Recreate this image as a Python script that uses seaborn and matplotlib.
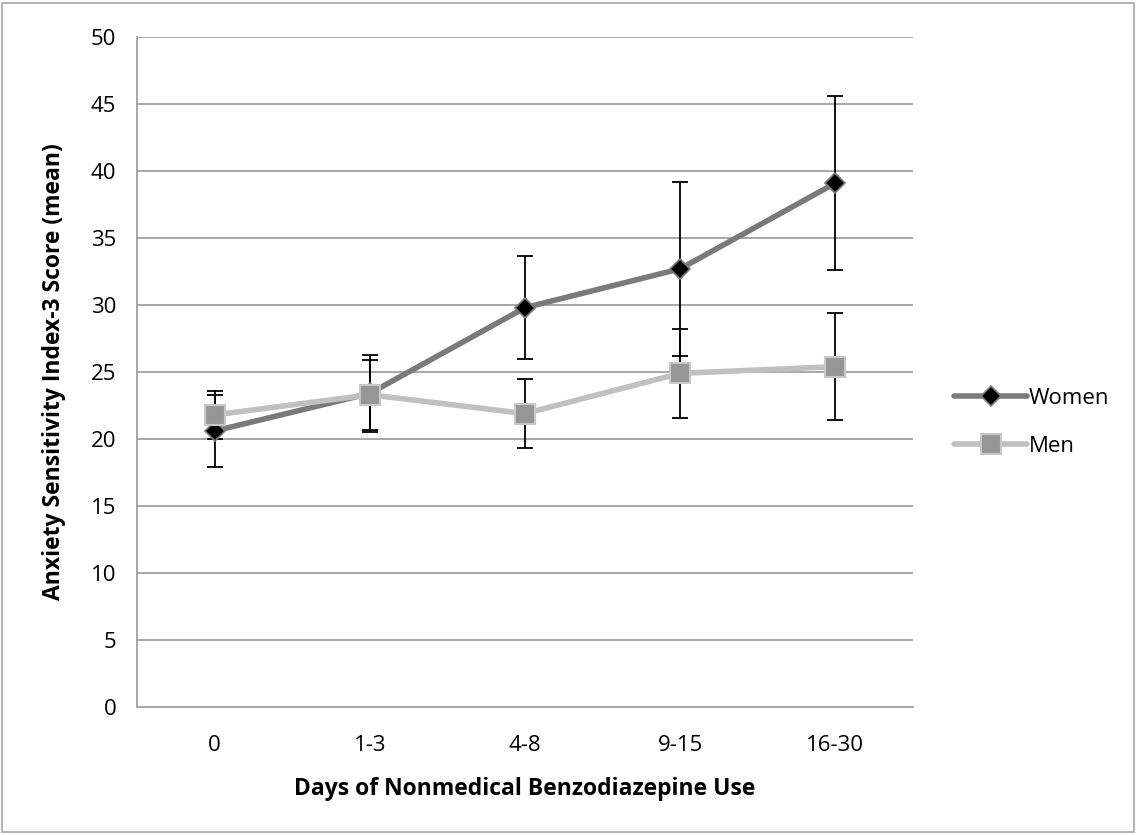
import pandas as pd
import numpy as np
import matplotlib.pyplot as plt
import seaborn as sns
from matplotlib.patches import Rectangle

# Data
categories = ["0", "1-3", "4-8", "9-15", "16-30"]
women_mean = [20.6, 23.4, 29.8, 32.7, 39.1]
women_err = [2.7, 2.9, 3.85, 6.5, 6.5]
men_mean = [21.8, 23.3, 21.9, 24.9, 25.4]
men_err = [1.8, 2.6, 2.6, 3.3, 4.0]

df = pd.DataFrame({
    "pos": list(range(len(categories))) * 2,
    "score": women_mean + men_mean,
    "err": women_err + men_err,
    "group": ["Women"] * len(categories) + ["Men"] * len(categories),
})

sns.set_style("white")
plt.rcParams["font.family"] = ["Open Sans", "DejaVu Sans"]
plt.rcParams["text.color"] = "black"
plt.rcParams["axes.labelcolor"] = "black"
plt.rcParams["xtick.color"] = "black"
plt.rcParams["ytick.color"] = "black"

fig = plt.figure(figsize=(11.36, 8.35), dpi=100)
ax = fig.add_axes([137 / 1136, 1 - 707 / 835, 776 / 1136, 670 / 835])

# frame around the whole chart
fig.patches.append(Rectangle((0.002, 0.003), 0.996, 0.994, transform=fig.transFigure,
                             fill=False, edgecolor="#a6a6a6", linewidth=1.2))

# gridlines
for yv in range(5, 51, 5):
    ax.axhline(yv, color="#a0a0a0", linewidth=1.3, zorder=0)

# error bars
for grp in ["Women", "Men"]:
    sub = df[df["group"] == grp]
    ax.errorbar(sub["pos"], sub["score"], yerr=sub["err"], fmt="none",
                ecolor="black", elinewidth=1.3, capsize=6, capthick=1.3, zorder=2)

sns.lineplot(data=df[df["group"] == "Women"], x="pos", y="score", ax=ax,
             color="#7a7a7a", linewidth=4, marker="D", markersize=10,
             markerfacecolor="black", markeredgecolor="#7a7a7a", markeredgewidth=1.2,
             label="Women", zorder=3)
sns.lineplot(data=df[df["group"] == "Men"], x="pos", y="score", ax=ax,
             color="#c0c0c0", linewidth=4, marker="s", markersize=14,
             markerfacecolor="#969696", markeredgecolor="#c8c8c8", markeredgewidth=1.5,
             label="Men", zorder=4)

ax.set_xlim(-0.5, len(categories) - 0.5)
ax.set_ylim(0, 50)
ax.set_yticks(range(0, 51, 5))
ax.set_xticks(range(len(categories)))
ax.set_xticklabels(categories)
ax.set_xticks(np.arange(-0.5, len(categories), 1.0), minor=True)
ax.tick_params(axis="x", which="major", length=0, pad=20, labelsize=16)
ax.tick_params(axis="x", which="minor", length=7, width=1.2, color="#a0a0a0", direction="out")
ax.tick_params(axis="y", which="major", length=7, width=1.2, color="#a0a0a0",
               direction="out", labelsize=16, pad=8)

for side in ["top", "right"]:
    ax.spines[side].set_visible(False)
for side in ["left", "bottom"]:
    ax.spines[side].set_color("#a0a0a0")
    ax.spines[side].set_linewidth(1.3)

ax.set_xlabel("Days of Nonmedical Benzodiazepine Use", fontsize=16.5, fontweight="bold", labelpad=15)
ax.set_ylabel("Anxiety Sensitivity Index-3 Score (mean)", fontsize=16.5, fontweight="bold", labelpad=18)

ax.legend(loc="center left", bbox_to_anchor=(1.027, 0.425), frameon=False, fontsize=16,
          handlelength=3.3, handletextpad=0.05, labelspacing=1.2)

plt.savefig("out.png", dpi=100)
